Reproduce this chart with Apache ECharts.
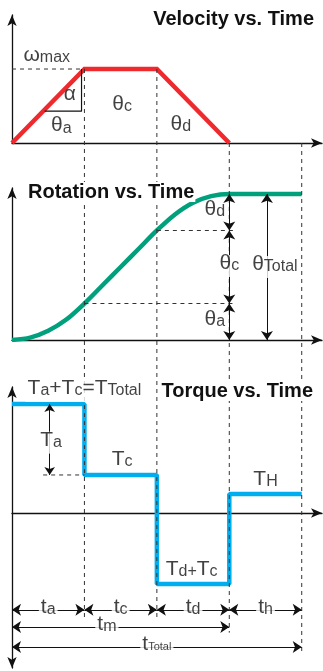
<!DOCTYPE html>
<html>
<head>
<meta charset="utf-8">
<script src="https://cdn.jsdelivr.net/npm/echarts@6/dist/echarts.min.js"></script>
<style>
  html, body { margin: 0; padding: 0; background: #fff; }
  #main { width: 323px; height: 671px; }
</style>
</head>
<body>
<div id="main"></div>
<script>
// phase boundaries on the time axis: t_a, t_c, t_d, t_h
const phaseTimes = [0, 1, 2, 3, 4];

// velocity trapezoid
const velocityTimes = [0, 1, 2, 3];
const velocityValues = [0, 1, 1, 0];

// rotation (S-curve)
const rotationTimes = [0, 0.25, 0.5, 0.75, 1, 1.25, 1.5, 1.75, 2, 2.25, 2.5, 2.75, 3, 3.5, 4];
const rotationValues = [0, 0.016, 0.063, 0.14, 0.25, 0.375, 0.5, 0.625, 0.75, 0.86, 0.94, 0.985, 1, 1, 1];
const rotationLevels = [0, 0.25, 0.75, 1];

// torque steps: Ta+Tc, Tc, Td+Tc (negative), TH, TH
const torqueValues = [5.74, 2.0, -3.74, 1.0, 1.0];

const FONT = '"Liberation Sans", Arial, sans-serif';
const INK = '#111';
const RED = '#ee2a2e';
const GREEN = '#00a07c';
const BLUE = '#00aeef';

const rich = {
  b: { fontSize: 21, lineHeight: 22, padding: [0, 0, 5, 0], fontFamily: FONT, color: INK },
  s: { fontSize: 16, lineHeight: 16, fontFamily: FONT, color: INK },
  x: { fontSize: 11, lineHeight: 12, fontFamily: FONT, color: INK }
};

const chart = echarts.init(document.getElementById('main'));

const axisLine = (symbol) => ({
  show: true,
  onZero: true,
  symbol: symbol,
  symbolSize: [7, 11],
  lineStyle: { color: INK, width: 1.3 }
});

function xAxis(gridIndex) {
  return {
    type: 'value', gridIndex, min: 0, max: 4.28,
    axisLine: axisLine(['none', 'arrow']),
    axisTick: { show: false }, axisLabel: { show: false }, splitLine: { show: false }
  };
}
function yAxis(gridIndex, min, max, symbol) {
  return {
    type: 'value', gridIndex, min, max,
    axisLine: axisLine(symbol),
    axisTick: { show: false }, axisLabel: { show: false }, splitLine: { show: false }
  };
}

function labels(gridIndex, items) {
  return {
    type: 'scatter', xAxisIndex: gridIndex, yAxisIndex: gridIndex,
    symbol: 'circle', symbolSize: 1, z: 20, silent: true,
    itemStyle: { color: 'rgba(0,0,0,0)' },
    label: { show: true, position: 'inside', rich },
    data: items.map((it) => ({
      value: it.at,
      label: { formatter: it.text, backgroundColor: it.bg ? '#fff' : 'transparent', padding: it.bg ? [0, 2] : 0 }
    }))
  };
}

function arrows(gridIndex, segs, size) {
  return {
    type: 'lines', coordinateSystem: 'cartesian2d',
    xAxisIndex: gridIndex, yAxisIndex: gridIndex, z: 6, silent: true,
    symbol: ['arrow', 'arrow'], symbolSize: size,
    lineStyle: { color: INK, width: 1, opacity: 1 },
    data: segs.map((c) => ({ coords: c }))
  };
}

function dashed(gridIndex, pts) {
  return {
    type: 'line', xAxisIndex: gridIndex, yAxisIndex: gridIndex, z: 5, silent: true,
    symbol: 'none', lineStyle: { color: '#333', width: 1, type: [4, 4] },
    data: pts
  };
}

const t = phaseTimes;

const option = {
  animation: false,
  title: [
    { text: 'Velocity vs. Time', right: 9, top: 9, padding: 0,
      textStyle: { fontSize: 20, fontWeight: 'bold', fontFamily: FONT, color: INK } },
    { text: 'Rotation vs. Time', left: 27, top: 182, padding: [0, 1], backgroundColor: '#fff',
      textStyle: { fontSize: 20, fontWeight: 'bold', fontFamily: FONT, color: INK } },
    { text: 'Torque vs. Time', right: 9, top: 381, padding: [0, 1], backgroundColor: '#fff',
      textStyle: { fontSize: 20, fontWeight: 'bold', fontFamily: FONT, color: INK } }
  ],
  grid: [
    { left: 12, right: 1, top: 15, height: 128 },
    { left: 12, right: 1, top: 188, height: 152 },
    { left: 12, right: 1, top: 387, height: 281 }
  ],
  xAxis: [xAxis(0), xAxis(1), xAxis(2)],
  yAxis: [
    yAxis(0, 0, 1.73, ['none', 'arrow']),
    yAxis(1, 0, 1.041, ['none', 'arrow']),
    yAxis(2, -8.16, 6.63, ['arrow', 'arrow'])
  ],
  series: [
    // velocity
    {
      type: 'line', xAxisIndex: 0, yAxisIndex: 0, z: 3, symbol: 'none',
      lineStyle: { color: RED, width: 4.5, cap: 'butt', join: 'miter' },
      data: velocityTimes.map((x, i) => [x, velocityValues[i]])
    },
    dashed(0, [[t[0], velocityValues[1]], [t[1], velocityValues[1]]]),
    {
      type: 'line', xAxisIndex: 0, yAxisIndex: 0, z: 4, symbol: 'none', silent: true,
      lineStyle: { color: INK, width: 1.2 },
      data: [[0.45, 0.43], [0.96, 0.43], [0.96, 1]]
    },
    labels(0, [
      { at: [0.48, 1.15], text: '{b|ω}{s|max}' },
      { at: [0.8, 0.62], text: '{b|α}' },
      { at: [0.68, 0.2], text: '{b|θ}{s|a}' },
      { at: [1.52, 0.49], text: '{b|θ}{s|c}' },
      { at: [2.33, 0.22], text: '{b|θ}{s|d}' }
    ]),

    // rotation
    {
      type: 'line', xAxisIndex: 1, yAxisIndex: 1, z: 3, symbol: 'none',
      smooth: 0.3,
      lineStyle: { color: GREEN, width: 4.5 },
      data: rotationTimes.map((x, i) => [x, rotationValues[i]])
    },
    dashed(1, [[t[1], rotationLevels[1]], [3.08, rotationLevels[1]]]),
    dashed(1, [[t[2], rotationLevels[2]], [3.08, rotationLevels[2]]]),
    arrows(1, [
      [[t[3], rotationLevels[3]], [t[3], rotationLevels[2]]],
      [[t[3], rotationLevels[2]], [t[3], rotationLevels[1]]],
      [[t[3], rotationLevels[1]], [t[3], rotationLevels[0]]],
      [[3.52, rotationLevels[3]], [3.52, rotationLevels[0]]]
    ], 9),
    labels(1, [
      { at: [2.8, 0.877], text: '{b|θ}{s|d}' },
      { at: [3.0, 0.507], text: '{b|θ}{s|c}', bg: true },
      { at: [2.8, 0.123], text: '{b|θ}{s|a}' },
      { at: [3.63, 0.5], text: '{b|θ}{s|Total}', bg: true }
    ]),

    // torque
    {
      type: 'line', xAxisIndex: 2, yAxisIndex: 2, z: 3, symbol: 'none', step: 'end',
      lineStyle: { color: BLUE, width: 4.5 },
      data: phaseTimes.map((x, i) => [x, torqueValues[i]])
    },
    dashed(2, [[0.43, torqueValues[1]], [t[1], torqueValues[1]]]),
    arrows(2, [[[0.52, torqueValues[0]], [0.52, torqueValues[1]]]], 8),
    arrows(2, [
      [[t[0], -5.1], [t[1], -5.1]],
      [[t[1], -5.1], [t[2], -5.1]],
      [[t[2], -5.1], [t[3], -5.1]],
      [[t[3], -5.1], [t[4], -5.1]],
      [[t[0], -6.0], [t[3], -6.0]],
      [[t[0], -7.05], [t[4], -7.05]]
    ], 9),
    labels(2, [
      { at: [1.0, 6.42], text: '{b|T}{s|a}{b|+T}{s|c}{b|=T}{s|Total}', bg: true },
      { at: [0.54, 3.7], text: '{b|T}{s|a}', bg: true },
      { at: [1.52, 2.68], text: '{b|T}{s|c}' },
      { at: [3.5, 1.63], text: '{b|T}{s|H}' },
      { at: [2.48, -3.1], text: '{b|T}{s|d}{s|+}{b|T}{s|c}' },
      { at: [0.5, -5.1], text: '{b|t}{s|a}', bg: true },
      { at: [1.5, -5.1], text: '{b|t}{s|c}', bg: true },
      { at: [2.5, -5.1], text: '{b|t}{s|d}', bg: true },
      { at: [3.5, -5.1], text: '{b|t}{s|h}', bg: true },
      { at: [1.31, -6.0], text: '{b|t}{s|m}', bg: true },
      { at: [2.0, -7.05], text: '{b|t}{x|Total}', bg: true }
    ])
  ]
};

chart.setOption(option);

// vertical dashed guides running through all three panels
const guideTop = [[0, 1], [0, 1], [0, 0], [0, 0]];      // [grid, value] where each guide starts
const guideBottom = [-5.6, -5.6, -6.3, -7.35];           // torque value where each guide ends
const graphics = phaseTimes.slice(1).map((x, i) => {
  const p1 = chart.convertToPixel({ gridIndex: guideTop[i][0] }, [x, guideTop[i][1]]);
  const p2 = chart.convertToPixel({ gridIndex: 2 }, [x, guideBottom[i]]);
  return {
    type: 'line', z: 5,
    shape: { x1: p1[0], y1: p1[1], x2: p2[0], y2: p2[1] },
    style: { stroke: '#333', lineWidth: 1, lineDash: [4, 4] }
  };
});
chart.setOption({ graphic: graphics });
</script>
</body>
</html>
